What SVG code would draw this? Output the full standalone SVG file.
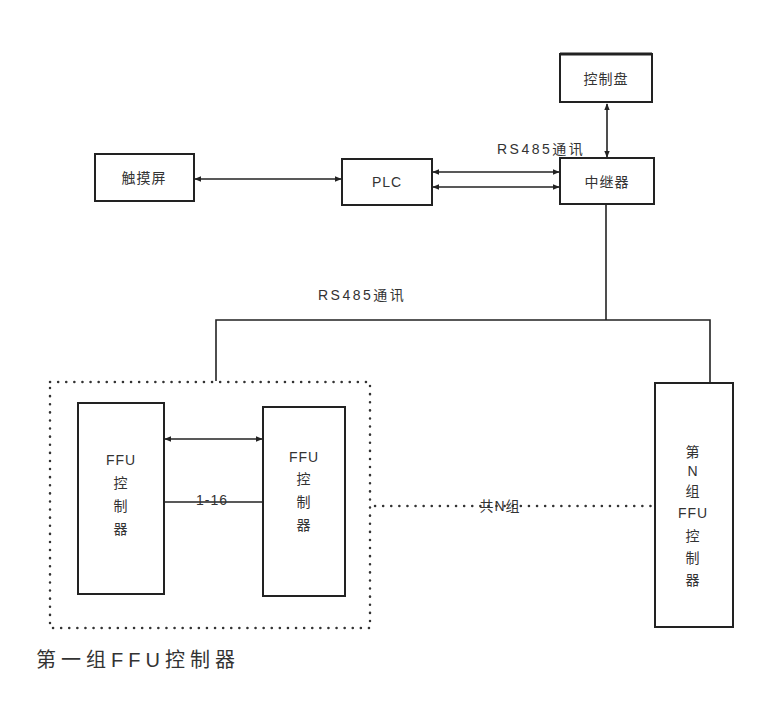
<svg xmlns="http://www.w3.org/2000/svg" width="759" height="701" viewBox="0 0 759 701">
<style>
.box{fill:#fff;stroke:#222;stroke-width:2}
.ln{fill:none;stroke:#222;stroke-width:1.6}
.dot{fill:none;stroke:#333;stroke-width:2.5;stroke-dasharray:0.1 8;stroke-linecap:round}
text{font-family:"Liberation Sans","Noto Sans CJK SC",sans-serif;fill:#333;font-size:14px;text-anchor:middle;letter-spacing:1px}
.lbl{text-anchor:start;letter-spacing:2.5px}
</style>
<defs>
<marker id="ah" viewBox="0 0 10 10" refX="9" refY="5" markerWidth="7" markerHeight="7" orient="auto-start-reverse" markerUnits="userSpaceOnUse">
<path d="M0,1 L10,5 L0,9 z" fill="#222"/>
</marker>
</defs>
<rect width="759" height="701" fill="#fff"/>
<g id="connectors">
<line class="ln" x1="607" y1="104" x2="607" y2="157" marker-start="url(#ah)" marker-end="url(#ah)"/>
<line class="ln" x1="195" y1="179" x2="341" y2="179" marker-start="url(#ah)" marker-end="url(#ah)"/>
<line class="ln" x1="433" y1="172" x2="559" y2="172" marker-start="url(#ah)" marker-end="url(#ah)"/>
<line class="ln" x1="433" y1="187" x2="559" y2="187" marker-start="url(#ah)" marker-end="url(#ah)"/>
<polyline class="ln" points="606,204 606,320"/>
<polyline class="ln" points="216,381 216,320 710,320 710,383"/>
<line class="ln" x1="165" y1="439" x2="262" y2="439" marker-start="url(#ah)" marker-end="url(#ah)"/>
<line class="ln" x1="165" y1="502" x2="262" y2="502"/>
<line class="dot" x1="375" y1="506" x2="652" y2="506"/>
<text class="lbl" x="497" y="154">RS485通讯</text>
<text class="lbl" x="318" y="300">RS485通讯</text>
<text x="212" y="505">1-16</text>
<text x="500" y="511">共N组</text>
</g>
<g id="group1">
<rect class="dot" x="50" y="382" width="320" height="246"/>
<text x="36" y="667" style="text-anchor:start;font-size:20px;letter-spacing:5px">第一组FFU控制器</text>
</g>
<g id="kongzhipan">
<rect class="box" x="560" y="54" width="92" height="48"/>
<line x1="560" y1="54" x2="652" y2="54" stroke="#222" stroke-width="3"/>
<text x="606" y="84">控制盘</text>
</g>
<g id="zhongjiqi">
<rect class="box" x="560" y="158" width="94" height="46"/>
<text x="607" y="187">中继器</text>
</g>
<g id="chumoping">
<rect class="box" x="95" y="154" width="99" height="47"/>
<text x="144" y="183">触摸屏</text>
</g>
<g id="plc">
<rect class="box" x="342" y="159" width="90" height="46"/>
<text x="387" y="187">PLC</text>
</g>
<g id="ffu1">
<rect class="box" x="78" y="403" width="86" height="191"/>
<text x="121" y="465">FFU</text>
<text x="121" y="488">控</text>
<text x="121" y="511">制</text>
<text x="121" y="534">器</text>
</g>
<g id="ffu2">
<rect class="box" x="263" y="407" width="82" height="189"/>
<text x="304" y="462">FFU</text>
<text x="304" y="484">控</text>
<text x="304" y="507">制</text>
<text x="304" y="530">器</text>
</g>
<g id="ffuN">
<rect class="box" x="655" y="383" width="78" height="244"/>
<text x="693" y="457">第</text>
<text x="693" y="476">N</text>
<text x="693" y="496">组</text>
<text x="693" y="518">FFU</text>
<text x="693" y="541">控</text>
<text x="693" y="563">制</text>
<text x="693" y="585">器</text>
</g>
</svg>
